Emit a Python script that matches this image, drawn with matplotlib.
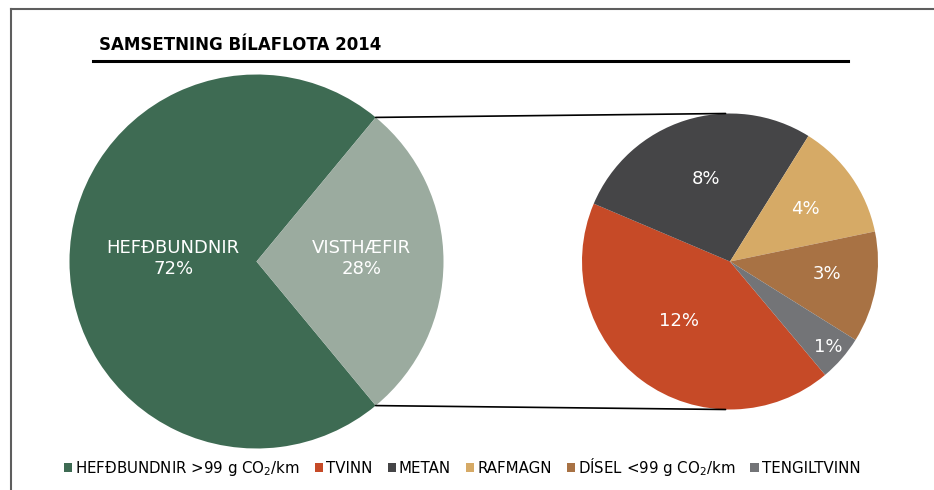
# Samsetning bílaflota 2014 - pie of pie

import matplotlib.pyplot as plt
from matplotlib.patches import Patch, ConnectionPatch
from matplotlib.lines import Line2D
import numpy as np

# main pie
main_labels = ["HEFÐBUNDNIR", "VISTHÆFIR"]
main_values = [72, 28]
main_colors = ["#3e6b53", "#9bab9f"]

# breakdown of VISTHÆFIR (% of whole fleet)
sub_labels = ["TVINN", "METAN", "RAFMAGN", r"DÍSEL <99 g CO$_2$/km", "TENGILTVINN"]
sub_values = [11.9, 7.7, 3.6, 3.4, 1.4]
sub_colors = ["#c64a27", "#454547", "#d6aa66", "#a87244", "#737477"]

legend_labels = [r"HEFÐBUNDNIR >99 g CO$_2$/km"] + sub_labels
legend_colors = [main_colors[0]] + sub_colors

W, H = 934, 490
fig = plt.figure(figsize=(W / 100, H / 100), dpi=100)
plt.rcParams['mathtext.default'] = 'regular'


def px_axes(cx, cy, r):
    # axes box from pixel centre/radius (y from top)
    return fig.add_axes([(cx - r) / W, (H - cy - r) / H, 2 * r / W, 2 * r / H])


# left pie
ax1 = px_axes(256.5, 261.5, 187)
half = main_values[1] / 100 * 360 / 2
ax1.pie(main_values, colors=main_colors, startangle=half, counterclock=True,
        wedgeprops=dict(linewidth=0))
ax1.set_xlim(-1, 1)
ax1.set_ylim(-1, 1)
ax1.text(-0.445, 0.015, f"{main_labels[0]}\n{main_values[0]}%", color="white",
         ha="center", va="center", fontsize=13, linespacing=1.2)
ax1.text(0.56, 0.015, f"{main_labels[1]}\n{main_values[1]}%", color="white",
         ha="center", va="center", fontsize=13, linespacing=1.2)

# right pie
ax2 = px_axes(730, 261.5, 148)
wedges, _ = ax2.pie(sub_values, colors=sub_colors, startangle=-50, counterclock=False,
                    wedgeprops=dict(linewidth=0))
ax2.set_xlim(-1, 1)
ax2.set_ylim(-1, 1)
label_r = [0.53, 0.58, 0.62, 0.66, 0.88]
label_shift = [-4, -1, 0, 3, 0]
for w, v, lr, sh in zip(wedges, sub_values, label_r, label_shift):
    ang = np.deg2rad((w.theta1 + w.theta2) / 2 + sh)
    ax2.text(lr * np.cos(ang), lr * np.sin(ang), f"{v:.0f}%", color="white",
             ha="center", va="center", fontsize=13)

# connector lines
a = np.deg2rad(half)
for sgn in (1, -1):
    con = ConnectionPatch(xyA=(np.cos(a), sgn * np.sin(a)), coordsA=ax1.transData,
                          xyB=(-0.03, sgn * 1.0), coordsB=ax2.transData,
                          color="black", linewidth=1.2)
    fig.add_artist(con)

# title and underline
fig.text(99 / W, 1 - 45 / H, "SAMSETNING BÍLAFLOTA 2014", fontsize=12,
         fontweight="bold", ha="left", va="center")
fig.add_artist(Line2D([93 / W, 848 / W], [1 - 61 / H] * 2, color="black", linewidth=2.2))

# outer frame (top and left)
fig.add_artist(Line2D([10.5 / W, 1], [1 - 9.5 / H] * 2, color="#5e5e5e", linewidth=1.5))
fig.add_artist(Line2D([10.5 / W] * 2, [0, 1 - 9.5 / H], color="#5e5e5e", linewidth=1.5))

# legend
handles = [Patch(facecolor=c, edgecolor="none") for c in legend_colors]
fig.legend(handles, legend_labels, loc="center", bbox_to_anchor=(462 / W, 1 - 467 / H),
           ncol=6, frameon=False, fontsize=10.8, handlelength=0.55, handleheight=0.55,
           handletextpad=0.2, columnspacing=1.0)

fig.savefig("out.png", dpi=100)
